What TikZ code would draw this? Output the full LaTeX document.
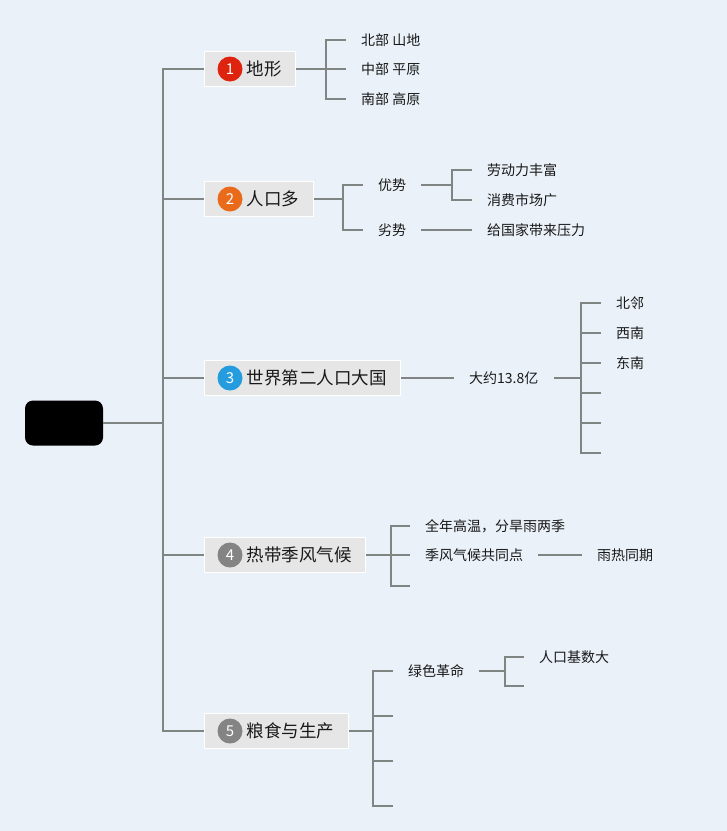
\documentclass[tikz,border=0pt]{standalone}
\usepackage{fontspec}
\setmainfont{Noto Sans CJK SC}
\usetikzlibrary{positioning}
\definecolor{bgblue}{RGB}{234,241,249}
\definecolor{linegray}{RGB}{128,133,131}
\definecolor{boxgray}{RGB}{230,230,230}
\definecolor{inkdark}{RGB}{25,25,25}
\definecolor{badgered}{RGB}{222,36,14}
\definecolor{badgeorange}{RGB}{233,106,26}
\definecolor{badgeblue}{RGB}{36,156,222}
\definecolor{badgegray}{RGB}{132,132,132}

\begin{document}
\begin{tikzpicture}[x=1pt,y=-1pt,
	link/.style={draw=linegray,line width=2.4pt},
	topic/.style={anchor=west,fill=boxgray,draw=white,line width=1.2pt,minimum height=35pt,
		inner xsep=14pt,inner ysep=0pt,text=inkdark,font=\fontsize{17.5}{20}\selectfont},
	badge/.style={circle,minimum size=25pt,inner sep=0pt,text=white,font=\fontsize{15}{16}\selectfont},
	leaf/.style={anchor=west,inner xsep=15pt,inner ysep=2pt,text=inkdark,font=\fontsize{14}{16}\selectfont}]
			\useasboundingbox (0,0) rectangle (727,831);
			\fill[bgblue] (0,0) rectangle (727,831);
			% root and main topics
			\node[fill=black,rounded corners=8pt,minimum width=78pt,minimum height=45pt,inner sep=0pt] (root) at (64,423) {};
			\coordinate (j0) at (163,423);
			\node[topic] (m1) at (204,69) {\hspace{28pt}地形};
			\node[topic] (m2) at (204,199) {\hspace{28pt}人口多};
			\node[topic] (m3) at (204,378) {\hspace{28pt}世界第二人口大国};
			\node[topic] (m4) at (204,555) {\hspace{28pt}热带季风气候};
			\node[topic] (m5) at (204,731) {\hspace{28pt}粮食与生产};
			\foreach \i/\c in {1/badgered,2/badgeorange,3/badgeblue,4/badgegray,5/badgegray} {
				\node[badge,fill=\c] (b\i) at ([xshift=26pt]m\i.west) {\i};
				\draw[link] (j0) |- (m\i.west);
			}
			\draw[link] (root.east) -- (j0);
			% 1
			\coordinate (j1) at (326,69);
			\draw[link] (m1.east) -- (j1);
			\foreach \k/\y/\s in {a/40/北部 山地,b/69/中部 平原,c/99/南部 高原} {
				\node[leaf] (t1\k) at (346,\y) {\s};
				\draw[link] (j1) |- (t1\k.west);
			}
			% 2
			\coordinate (j2) at (343,199);
			\draw[link] (m2.east) -- (j2);
			\node[leaf] (t2a) at (363,185) {优势};
			\node[leaf] (t2b) at (363,230) {劣势};
			\draw[link] (j2) |- (t2a.west);
			\draw[link] (j2) |- (t2b.west);
			\coordinate (j21) at (452,185);
			\node[leaf] (t2c) at (472,170) {劳动力丰富};
			\node[leaf] (t2d) at (472,200) {消费市场广};
			\node[leaf] (t2e) at (472,230) {给国家带来压力};
			\draw[link] (t2a.east) -- (j21);
			\draw[link] (j21) |- (t2c.west);
			\draw[link] (j21) |- (t2d.west);
			\draw[link] (t2b.east) -- (t2e.west);
			% 3
			\node[leaf] (n3) at (454,378) {大约13.8亿};
			\draw[link] (m3.east) -- (n3.west);
			\coordinate (j3) at (581,378);
			\draw[link] (n3.east) -- (j3);
			\foreach \k/\y/\s in {a/303/北邻,b/333/西南,c/363/东南,d/393/{},e/423/{},f/453/{}} {
				\node[leaf] (t3\k) at (601,\y) {\s};
				\draw[link] (j3) |- (t3\k.west);
			}
			% 4
			\coordinate (j4) at (391,555);
			\draw[link] (m4.east) -- (j4);
			\foreach \k/\y/\s in {a/526/全年高温，分旱雨两季,b/555/季风气候共同点,c/586/{}} {
				\node[leaf] (t4\k) at (410,\y) {\s};
				\draw[link] (j4) |- (t4\k.west);
			}
			\node[leaf] (t4d) at (582,555) {雨热同期};
			\draw[link] (t4b.east) -- (t4d.west);
			% 5
			\coordinate (j5) at (373,731);
			\draw[link] (m5.east) -- (j5);
			\foreach \k/\y/\s in {a/671/绿色革命,b/716/{},c/761/{},d/806/{}} {
				\node[leaf] (t5\k) at (393,\y) {\s};
				\draw[link] (j5) |- (t5\k.west);
			}
			\coordinate (j51) at (505,671);
			\draw[link] (t5a.east) -- (j51);
			\node[leaf] (t5e) at (524,657) {人口基数大};
			\node[leaf] (t5f) at (524,686) {};
			\draw[link] (j51) |- (t5e.west);
			\draw[link] (j51) |- (t5f.west);
		\end{tikzpicture}
\end{document}
